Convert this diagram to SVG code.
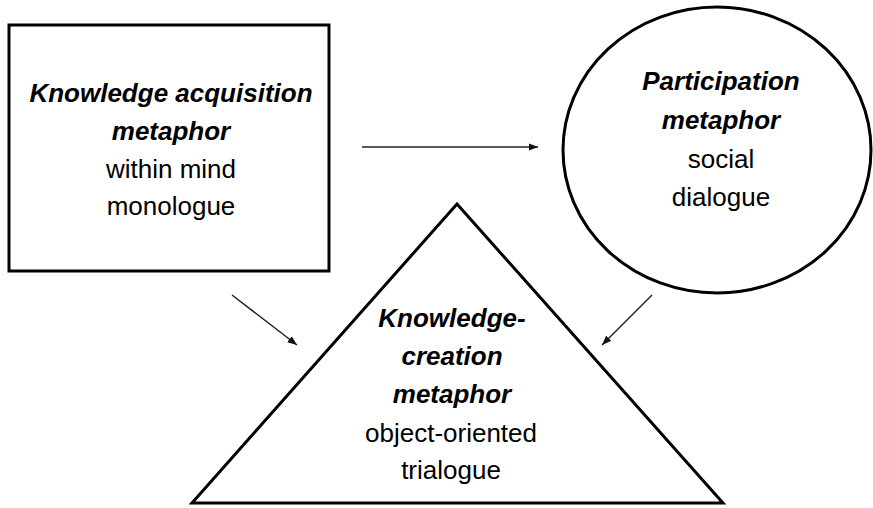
<svg xmlns="http://www.w3.org/2000/svg" width="873" height="508" viewBox="0 0 873 508">
<style>
.shape{fill:#fff;stroke:#000;stroke-width:3}
.t{font-family:"Liberation Sans",Arial,sans-serif;font-size:26px;fill:#000;text-anchor:middle}
.b{font-weight:bold;font-style:italic}
.c{stroke:#222;stroke-width:1.5;fill:none;marker-end:url(#ah)}
</style>
<defs>
<marker id="ah" markerUnits="userSpaceOnUse" markerWidth="11" markerHeight="9" refX="9.5" refY="3.75" orient="auto">
<path d="M0,0 L9.5,3.75 L0,7.5 Z" fill="#111"/>
</marker>
</defs>
<rect width="873" height="508" fill="#fff"/>
<g id="node-acquisition">
<rect class="shape" x="9" y="25" width="320" height="246"/>
<text class="t b" x="171" y="102">Knowledge acquisition</text>
<text class="t b" x="171" y="140">metaphor</text>
<text class="t" x="171" y="178">within mind</text>
<text class="t" x="171" y="215">monologue</text>
</g>
<g id="node-participation">
<ellipse class="shape" cx="717" cy="150" rx="154" ry="143"/>
<text class="t b" x="721" y="90">Participation</text>
<text class="t b" x="721" y="129">metaphor</text>
<text class="t" x="721" y="168">social</text>
<text class="t" x="721" y="206">dialogue</text>
</g>
<g id="node-creation">
<polygon class="shape" points="457,204 192,503 723,503" stroke-linejoin="miter" stroke-width="2.7"/>
<text class="t b" x="452" y="327">Knowledge-</text>
<text class="t b" x="452" y="365">creation</text>
<text class="t b" x="452" y="403">metaphor</text>
<text class="t" x="451" y="442">object-oriented</text>
<text class="t" x="451" y="479">trialogue</text>
</g>
<g id="connectors">
<line class="c" x1="362" y1="147" x2="538" y2="147"/>
<line class="c" x1="232" y1="295" x2="297" y2="345"/>
<line class="c" x1="652" y1="295" x2="602" y2="345"/>
</g>
</svg>
